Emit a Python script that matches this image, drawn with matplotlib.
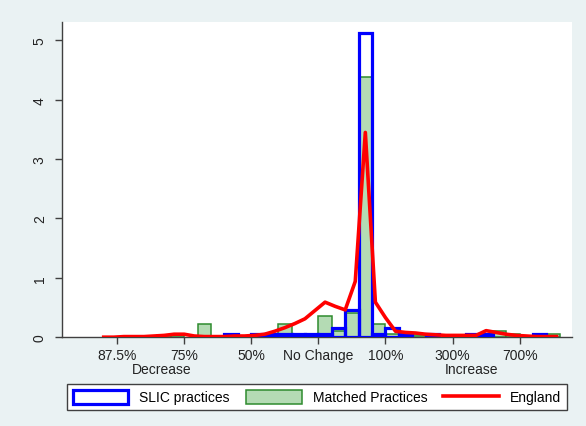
import matplotlib
matplotlib.use("agg")
import matplotlib.pyplot as plt
from matplotlib.patches import Patch
from matplotlib.lines import Line2D

plt.rcParams['font.family'] = ['Liberation Sans', 'DejaVu Sans']

# bin left edges (log2 ratio), bin width 0.2
slic_left = [-1.4, -1.0, -0.8, -0.6, -0.4, -0.2, 0.0, 0.2, 0.4, 0.6, 0.8, 1.0, 1.2, 1.6, 2.2, 2.4, 3.2]
slic_dens = [0.06, 0.06, 0.06, 0.06, 0.06, 0.06, 0.06, 0.16, 0.46, 5.13, 0.06, 0.16, 0.06, 0.06, 0.06, 0.06, 0.06]

match_left = [-2.4, -2.2, -1.8, -0.6, 0.0, 0.2, 0.4, 0.6, 0.8, 1.0, 1.4, 2.6, 2.8, 3.4]
match_dens = [0.03, 0.04, 0.23, 0.23, 0.36, 0.11, 0.41, 4.38, 0.23, 0.06, 0.03, 0.11, 0.05, 0.05]
bin_width = 0.2

eng_x = [-3.2, -3.05, -2.9, -2.75, -2.6, -2.45, -2.3, -2.15, -2.0, -1.85, -1.7, -1.55,
         -1.4, -1.25, -1.1, -0.95, -0.8, -0.65, -0.5, -0.35, -0.2, -0.05, 0.1, 0.25,
         0.4, 0.55, 0.7, 0.85, 1.0, 1.15, 1.3, 1.45, 1.6, 1.75, 1.9, 2.05, 2.2, 2.35,
         2.5, 2.65, 2.8, 2.95, 3.1, 3.25, 3.4, 3.55]
eng_y = [0.00, 0.00, 0.01, 0.01, 0.01, 0.02, 0.03, 0.05, 0.05, 0.02, 0.01, 0.01,
         0.01, 0.02, 0.02, 0.03, 0.05, 0.10, 0.16, 0.23, 0.31, 0.45, 0.59, 0.52,
         0.46, 0.94, 3.45, 0.59, 0.33, 0.10, 0.08, 0.07, 0.05, 0.04, 0.03, 0.03,
         0.03, 0.03, 0.11, 0.08, 0.05, 0.03, 0.02, 0.01, 0.01, 0.01]

xtick_pos = [-3, -2, -1, 0, 1, 2, 3]
xtick_lab = ["87.5%", "75%", "50%", "No Change", "100%", "300%", "700%"]

bg = "#EAF2F3"
green_fill = "#B4DBB4"
green_edge = "#2E8B2E"

fig = plt.figure(figsize=(5.86, 4.27), dpi=100, facecolor=bg)
ax = fig.add_axes([0.106, 0.208, 0.870, 0.738])
ax.set_facecolor("white")

ax.bar(match_left, match_dens, width=bin_width, align="edge",
       facecolor=green_fill, edgecolor=green_edge, linewidth=1.1, zorder=2)
ax.bar(slic_left, slic_dens, width=bin_width, align="edge",
       facecolor="none", edgecolor="#0000FF", linewidth=2.3, zorder=3)
ax.plot(eng_x, eng_y, color="#FF0000", linewidth=2.6, zorder=4)

ax.set_xlim(-3.82, 3.78)
ax.set_ylim(0, 5.31)

for s in ["top", "right"]:
    ax.spines[s].set_visible(False)
for s in ["left", "bottom"]:
    ax.spines[s].set_color("#404040")
    ax.spines[s].set_linewidth(1.0)

ax.set_xticks(xtick_pos)
ax.set_xticklabels(xtick_lab, fontsize=10)
ax.set_yticks([0, 1, 2, 3, 4, 5])
ax.set_yticklabels(["0", "1", "2", "3", "4", "5"], fontsize=10, rotation=90, va="center")
ax.tick_params(axis="both", direction="out", length=5, width=1, color="#404040", labelcolor="#222222")
ax.tick_params(axis="x", pad=3)
ax.tick_params(axis="y", pad=6)

ax.text(-2.34, -0.54, "Decrease", ha="center", va="center", fontsize=10, color="#222222")
ax.text(2.28, -0.54, "Increase", ha="center", va="center", fontsize=10, color="#222222")

handles = [
    Patch(facecolor="white", edgecolor="#0000FF", linewidth=2.3),
    Patch(facecolor=green_fill, edgecolor=green_edge, linewidth=1.1),
    Line2D([], [], color="#FF0000", linewidth=2.6),
]
labels = ["SLIC practices", "Matched Practices", "England"]
leg = fig.legend(handles, labels, loc="center", ncol=3, mode="expand",
                 bbox_to_anchor=(0.1143, 0.0328, 0.853, 0.070),
                 fontsize=10, handlelength=4.0, handleheight=1.2,
                 fancybox=False, framealpha=1, edgecolor="#404040",
                 borderaxespad=0, columnspacing=1.5)
leg.get_frame().set_linewidth(1.0)

fig.savefig("out.png", dpi=100, facecolor=bg)
